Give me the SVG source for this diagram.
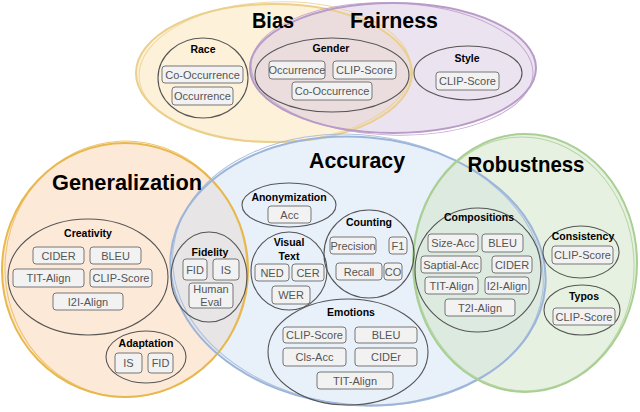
<svg xmlns="http://www.w3.org/2000/svg" width="640" height="412" viewBox="0 0 640 412">
<style>
.bg{stroke:none;fill-opacity:0.5}
.st{fill:none;stroke-width:2}
.st2{fill:none;stroke-width:1;stroke-opacity:0.8}
.title{font-family:"Liberation Sans",Arial,sans-serif;font-weight:bold;font-size:22px;fill:#000;text-anchor:middle}
.cat{fill:none;stroke:#555;stroke-width:1.1}
.lab{font-family:"Liberation Sans",Arial,sans-serif;font-weight:bold;font-size:10.5px;fill:#000;text-anchor:middle}
.box rect{fill:#f2f2f2;stroke:#777;stroke-width:1}
.box text{font-family:"Liberation Sans",Arial,sans-serif;font-size:11px;fill:#555;text-anchor:middle}
</style>
<rect width="640" height="412" fill="#fff"/>
<g id="areas">
<ellipse class="bg" cx="274" cy="73" rx="138" ry="69" fill="#fbe6b3"/>
<ellipse class="bg" cx="393" cy="68" rx="143" ry="65" fill="#d9c7e3"/>
<ellipse class="bg" cx="125" cy="270" rx="123" ry="127" fill="#fbd3b0"/>
<ellipse class="bg" cx="358" cy="271" rx="188" ry="134" fill="#d2e1f5" transform="rotate(5 358 271)"/>
<ellipse class="bg" cx="525" cy="263" rx="112" ry="129" fill="#cfe3c5"/>
<ellipse class="st" cx="274" cy="73" rx="138" ry="69" stroke="#ebcf8c"/>
<ellipse class="st2" cx="275" cy="72" rx="136" ry="70" stroke="#ebcf8c" transform="rotate(-2 275 72)"/>
<ellipse class="st" cx="393" cy="68" rx="143" ry="65" stroke="#b99bc8"/>
<ellipse class="st2" cx="392" cy="69" rx="141" ry="66" stroke="#b99bc8" transform="rotate(2 392 69)"/>
<ellipse class="st" cx="125" cy="270" rx="123" ry="127" stroke="#e9b84d"/>
<ellipse class="st2" cx="126" cy="269" rx="121" ry="128" stroke="#e9b84d" transform="rotate(-3 126 269)"/>
<ellipse class="st" cx="358" cy="271" rx="188" ry="134" stroke="#9db5d9" transform="rotate(5 358 271)"/>
<ellipse class="st2" cx="358" cy="270" rx="186" ry="135" stroke="#9db5d9" transform="rotate(7 358 270)"/>
<ellipse class="st" cx="525" cy="263" rx="112" ry="129" stroke="#a9cf94"/>
<ellipse class="st2" cx="524" cy="264" rx="110" ry="127" stroke="#a9cf94" transform="rotate(-3 524 264)"/>
</g>
<g id="titles">
<text class="title" x="273" y="28" textLength="42" lengthAdjust="spacingAndGlyphs">Bias</text>
<text class="title" x="394" y="28" textLength="88" lengthAdjust="spacingAndGlyphs">Fairness</text>
<text class="title" x="357" y="168" textLength="96" lengthAdjust="spacingAndGlyphs">Accuracy</text>
<text class="title" x="127" y="190" textLength="150" lengthAdjust="spacingAndGlyphs">Generalization</text>
<text class="title" x="526" y="172" textLength="117" lengthAdjust="spacingAndGlyphs">Robustness</text>
</g>
<g id="race">
<ellipse class="cat" cx="203" cy="78" rx="45" ry="40"/>
<text class="lab" x="203" y="53">Race</text>
<g class="box"><rect x="162" y="66" width="81" height="17" rx="3"/><text x="202.5" y="78.5">Co-Occurrence</text></g>
<g class="box"><rect x="172" y="87" width="61" height="18" rx="3"/><text x="202.5" y="100">Occurrence</text></g>
</g>
<g id="gender">
<ellipse class="cat" cx="332" cy="75" rx="77" ry="37"/>
<text class="lab" x="331" y="52">Gender</text>
<g class="box"><rect x="269" y="61" width="56" height="18" rx="3"/><text x="297" y="74">Occurrence</text></g>
<g class="box"><rect x="333" y="61" width="63" height="18" rx="3"/><text x="364.5" y="74">CLIP-Score</text></g>
<g class="box"><rect x="292" y="82" width="80" height="18" rx="3"/><text x="332" y="95">Co-Occurrence</text></g>
</g>
<g id="style">
<ellipse class="cat" cx="468" cy="73" rx="54" ry="27"/>
<text class="lab" x="467" y="62">Style</text>
<g class="box"><rect x="436" y="72" width="63" height="18" rx="3"/><text x="467.5" y="85">CLIP-Score</text></g>
</g>
<g id="creativity">
<ellipse class="cat" cx="88" cy="277" rx="80" ry="58"/>
<text class="lab" x="88" y="237">Creativity</text>
<g class="box"><rect x="33" y="247" width="51" height="17" rx="3"/><text x="58.5" y="259.5">CIDER</text></g>
<g class="box"><rect x="90" y="247" width="51" height="17" rx="3"/><text x="115.5" y="259.5">BLEU</text></g>
<g class="box"><rect x="13" y="269" width="71" height="18" rx="3"/><text x="48.5" y="282">TIT-Align</text></g>
<g class="box"><rect x="90" y="269" width="62" height="18" rx="3"/><text x="121" y="282">CLIP-Score</text></g>
<g class="box"><rect x="53" y="293" width="70" height="17" rx="3"/><text x="88" y="305.5">I2I-Align</text></g>
</g>
<g id="adaptation">
<ellipse class="cat" cx="146" cy="357" rx="40" ry="26"/>
<text class="lab" x="146" y="347">Adaptation</text>
<g class="box"><rect x="115" y="353" width="27" height="20" rx="3"/><text x="128.5" y="367">IS</text></g>
<g class="box"><rect x="148" y="353" width="25" height="20" rx="3"/><text x="160.5" y="367">FID</text></g>
</g>
<g id="fidelity">
<ellipse class="cat" cx="209" cy="277" rx="38" ry="45"/>
<text class="lab" x="210" y="256">Fidelity</text>
<g class="box"><rect x="183" y="259" width="24" height="21" rx="3"/><text x="195" y="273.5">FID</text></g>
<g class="box"><rect x="213" y="259" width="26" height="21" rx="3"/><text x="226" y="273.5">IS</text></g>
<g class="box"><rect x="189" y="283" width="44" height="25" rx="3"/><text x="211" y="293">Human</text><text x="211" y="306">Eval</text></g>
</g>
<g id="anonymization">
<ellipse class="cat" cx="289" cy="205" rx="47" ry="22"/>
<text class="lab" x="289" y="201">Anonymization</text>
<g class="box"><rect x="268" y="206" width="43" height="17" rx="3"/><text x="289.5" y="218.5">Acc</text></g>
</g>
<g id="visualtext">
<ellipse class="cat" cx="289" cy="271" rx="38" ry="39"/>
<text class="lab" x="289" y="246">Visual</text>
<text class="lab" x="289" y="260">Text</text>
<g class="box"><rect x="255" y="264" width="34" height="17" rx="3"/><text x="272" y="276.5">NED</text></g>
<g class="box"><rect x="292" y="264" width="32" height="17" rx="3"/><text x="308" y="276.5">CER</text></g>
<g class="box"><rect x="272" y="286" width="38" height="18" rx="3"/><text x="291" y="299">WER</text></g>
</g>
<g id="counting">
<ellipse class="cat" cx="369" cy="254" rx="45" ry="44"/>
<text class="lab" x="369" y="226">Counting</text>
<g class="box"><rect x="330" y="237" width="46" height="17" rx="3"/><text x="353" y="249.5">Precision</text></g>
<g class="box"><rect x="389" y="237" width="18" height="17" rx="3"/><text x="398" y="249.5">F1</text></g>
<g class="box"><rect x="336" y="263" width="46" height="17" rx="3"/><text x="359" y="275.5">Recall</text></g>
<g class="box"><rect x="384" y="263" width="18" height="17" rx="3"/><text x="393" y="275.5">CO</text></g>
</g>
<g id="emotions">
<ellipse class="cat" cx="348" cy="352" rx="80" ry="53"/>
<text class="lab" x="351" y="316">Emotions</text>
<g class="box"><rect x="283" y="327" width="63" height="16" rx="3"/><text x="314.5" y="339">CLIP-Score</text></g>
<g class="box"><rect x="355" y="327" width="62" height="16" rx="3"/><text x="386" y="339">BLEU</text></g>
<g class="box"><rect x="283" y="348" width="63" height="18" rx="3"/><text x="314.5" y="361">Cls-Acc</text></g>
<g class="box"><rect x="355" y="348" width="62" height="18" rx="3"/><text x="386" y="361">CIDEr</text></g>
<g class="box"><rect x="317" y="372" width="76" height="17" rx="3"/><text x="355" y="384.5">TIT-Align</text></g>
</g>
<g id="compositions">
<ellipse class="cat" cx="478" cy="270" rx="63" ry="62"/>
<text class="lab" x="479" y="221">Compositions</text>
<g class="box"><rect x="428" y="234" width="50" height="18" rx="3"/><text x="453" y="247">Size-Acc</text></g>
<g class="box"><rect x="482" y="234" width="41" height="18" rx="3"/><text x="502.5" y="247">BLEU</text></g>
<g class="box"><rect x="421" y="256" width="60" height="17" rx="3"/><text x="451" y="268.5">Saptial-Acc</text></g>
<g class="box"><rect x="492" y="256" width="40" height="17" rx="3"/><text x="512" y="268.5">CIDER</text></g>
<g class="box"><rect x="425" y="277" width="53" height="17" rx="3"/><text x="451.5" y="289.5">TIT-Align</text></g>
<g class="box"><rect x="485" y="277" width="44" height="17" rx="3"/><text x="507" y="289.5">I2I-Align</text></g>
<g class="box"><rect x="445" y="299" width="70" height="17" rx="3"/><text x="480" y="311.5">T2I-Align</text></g>
</g>
<g id="consistency">
<ellipse class="cat" cx="581" cy="252" rx="38" ry="26"/>
<text class="lab" x="583" y="240">Consistency</text>
<g class="box"><rect x="552" y="246" width="61" height="18" rx="3"/><text x="582.5" y="259">CLIP-Score</text></g>
</g>
<g id="typos">
<ellipse class="cat" cx="582" cy="310" rx="38" ry="25"/>
<text class="lab" x="584" y="300">Typos</text>
<g class="box"><rect x="553" y="308" width="62" height="17" rx="3"/><text x="584" y="320.5">CLIP-Score</text></g>
</g>
<g id="connectors"></g>
</svg>
